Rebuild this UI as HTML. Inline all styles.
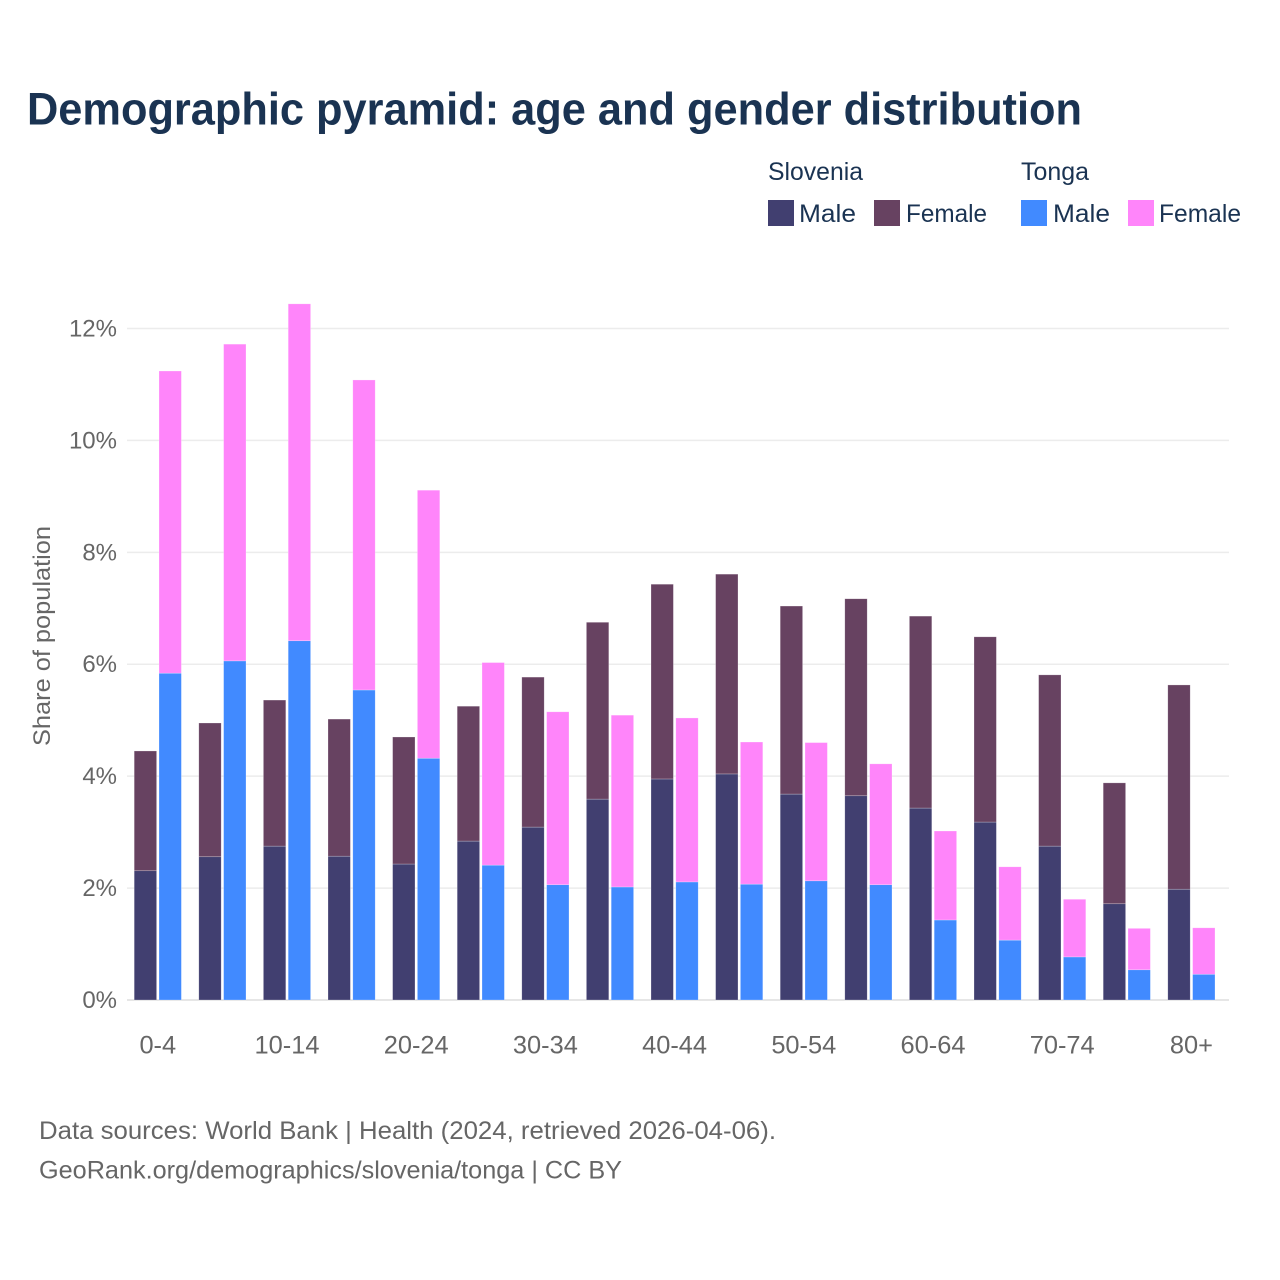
<!DOCTYPE html>
<html lang="en">
<head>
<meta charset="utf-8">
<title>Demographic pyramid: age and gender distribution</title>
<style>
html,body{margin:0;padding:0;background:#fff;width:1280px;height:1280px;overflow:hidden}
svg{display:block}
text{font-family:"Liberation Sans",sans-serif}
</style>
</head>
<body>
<svg id="chart" xmlns="http://www.w3.org/2000/svg" width="1280" height="1280" viewBox="0 0 1280 1280">
  <rect width="1280" height="1280" fill="#ffffff"/>
  <text x="27" y="124.5" font-size="45" font-weight="700" fill="#1a3352" textLength="1055" lengthAdjust="spacingAndGlyphs">Demographic pyramid: age and gender distribution</text>

  <g font-size="25" fill="#1a3352">
    <text x="768" y="180" textLength="95" lengthAdjust="spacingAndGlyphs">Slovenia</text>
    <text x="1021" y="180" textLength="68" lengthAdjust="spacingAndGlyphs">Tonga</text>
    <rect x="768" y="200" width="26" height="26" fill="#413f70"/>
    <text x="799" y="222" textLength="57" lengthAdjust="spacingAndGlyphs">Male</text>
    <rect x="874" y="200" width="26" height="26" fill="#674261"/>
    <text x="906" y="222" textLength="81" lengthAdjust="spacingAndGlyphs">Female</text>
    <rect x="1021" y="200" width="26" height="26" fill="#418aff"/>
    <text x="1053" y="222" textLength="57" lengthAdjust="spacingAndGlyphs">Male</text>
    <rect x="1128" y="200" width="26" height="26" fill="#ff85fa"/>
    <text x="1159" y="222" textLength="82" lengthAdjust="spacingAndGlyphs">Female</text>
  </g>

  <g id="grid"></g>
  <g id="yticks"></g>
  <g id="bars"></g>
  <g id="xticks"></g>

  <text transform="translate(50,636) rotate(-90)" text-anchor="middle" font-size="24" fill="#666666" textLength="220" lengthAdjust="spacingAndGlyphs">Share of population</text>

  <text x="39" y="1139" font-size="25" fill="#666666" textLength="737" lengthAdjust="spacingAndGlyphs">Data sources: World Bank | Health (2024, retrieved 2026-04-06).</text>
  <text x="39" y="1178.5" font-size="25" fill="#666666" textLength="583" lengthAdjust="spacingAndGlyphs">GeoRank.org/demographics/slovenia/tonga | CC BY</text>
</svg>
<script>
const categories = ['0-4','5-9','10-14','15-19','20-24','25-29','30-34','35-39','40-44','45-49','50-54','55-59','60-64','65-69','70-74','75-79','80+'];
const sloveniaMale = [2.31,2.56,2.75,2.57,2.43,2.84,3.09,3.59,3.95,4.04,3.68,3.65,3.43,3.18,2.75,1.72,1.98];
const sloveniaFemale = [2.14,2.39,2.61,2.45,2.27,2.41,2.68,3.16,3.48,3.57,3.36,3.52,3.43,3.31,3.06,2.16,3.65];
const tongaMale = [5.84,6.06,6.42,5.54,4.32,2.41,2.06,2.02,2.11,2.07,2.13,2.06,1.43,1.07,0.77,0.54,0.46];
const tongaFemale = [5.40,5.66,6.02,5.54,4.79,3.62,3.09,3.07,2.93,2.54,2.47,2.16,1.59,1.31,1.03,0.74,0.83];
const yTicks = [0,2,4,6,8,10,12];

const NS = 'http://www.w3.org/2000/svg';
const barWidth = 22.4;
const barGap = 2.4;
function xScale(i){ return 134.2 + i * 64.6; }
function yScale(v){ return 1000 - v * 55.96; }
function make(tag, attrs, parent){
  const el = document.createElementNS(NS, tag);
  for (const k in attrs) el.setAttribute(k, attrs[k]);
  parent.appendChild(el);
  return el;
}
const gridG = document.getElementById('grid');
const yG = document.getElementById('yticks');
const barsG = document.getElementById('bars');
const xG = document.getElementById('xticks');

yTicks.forEach(function(t){
  const line = make('line', {x1:127, x2:1229, y1:yScale(t), y2:yScale(t), stroke: t === 0 ? '#e6e6e6' : '#ececec', 'stroke-width': t === 0 ? 2 : 1.5}, gridG);
  
  
  const label = make('text', {x:117, y:yScale(t) + 8, 'text-anchor':'end', 'font-size':24, fill:'#666666'}, yG);
  
  
  label.textContent = t + '%';
});

function drawBar(x, base, value, color, name){
  const top = yScale(base + value);
  const bar = make('rect', {x:x, y:top, width:barWidth, height:yScale(base) - top, fill:color, stroke:'#ffffff', 'stroke-opacity':0.4, 'stroke-width':0.6}, barsG);
  
  
}
categories.forEach(function(c, i){
  const x1 = xScale(i);
  const x2 = x1 + barWidth + barGap;
  drawBar(x1, 0, sloveniaMale[i], '#413f70', 'bar-slovenia-male-' + c);
  drawBar(x1, sloveniaMale[i], sloveniaFemale[i], '#674261', 'bar-slovenia-female-' + c);
  drawBar(x2, 0, tongaMale[i], '#418aff', 'bar-tonga-male-' + c);
  drawBar(x2, tongaMale[i], tongaFemale[i], '#ff85fa', 'bar-tonga-female-' + c);
  if (i % 2 === 0) {
    const label = make('text', {x:x1 + barWidth + barGap / 2, y:1053.5, 'text-anchor':'middle', 'font-size':25.4, fill:'#666666'}, xG);
    
    
    label.textContent = c;
  }
});
</script>
</body>
</html>
